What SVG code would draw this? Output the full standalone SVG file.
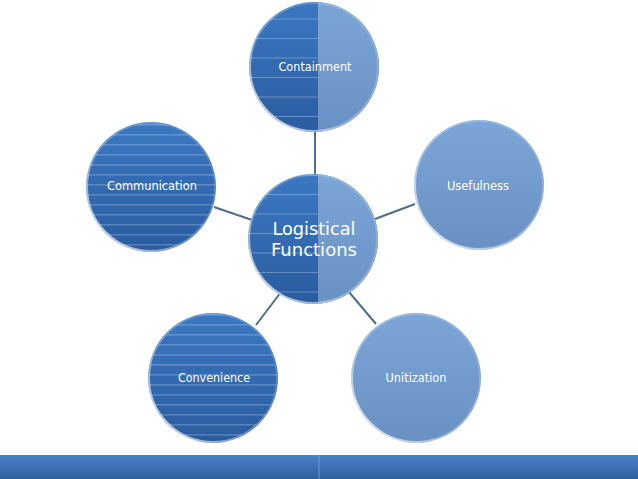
<svg xmlns="http://www.w3.org/2000/svg" width="638" height="479" viewBox="0 0 638 479">
<style>
.lbl{font-family:"DejaVu Sans Condensed","DejaVu Sans","Liberation Sans",sans-serif;font-size:12px;fill:#ffffff;text-anchor:middle}
.big{font-family:"DejaVu Sans Condensed","DejaVu Sans","Liberation Sans",sans-serif;font-size:18px;fill:#ffffff;text-anchor:middle}
.conn{stroke:#4d6d8e;stroke-width:2;fill:none}
.rim{fill:none;stroke:url(#rimG);stroke-width:2}
</style>
<defs>
<linearGradient id="dark" x1="0" y1="0" x2="0" y2="1">
<stop offset="0" stop-color="#3b78c2"/><stop offset="1" stop-color="#2a5c9f"/>
</linearGradient>
<linearGradient id="light" x1="0" y1="0" x2="0" y2="1">
<stop offset="0" stop-color="#7da6d8"/><stop offset="1" stop-color="#6890c3"/>
</linearGradient>
<linearGradient id="rimG" x1="1" y1="0" x2="0" y2="1">
<stop offset="0" stop-color="#ffffff" stop-opacity="0.1"/><stop offset="0.6" stop-color="#ffffff" stop-opacity="0.3"/><stop offset="1" stop-color="#ffffff" stop-opacity="0.9"/>
</linearGradient>
<linearGradient id="bar" x1="0" y1="0" x2="0" y2="1">
<stop offset="0" stop-color="#4c82cc"/><stop offset="1" stop-color="#2f5e9c"/>
</linearGradient>
<pattern id="s10" patternUnits="userSpaceOnUse" width="20" height="10">
<rect x="0" y="4.5" width="20" height="0.8" fill="#ffffff" fill-opacity="0.4"/>
</pattern>
<pattern id="s20" patternUnits="userSpaceOnUse" width="20" height="19.5">
<rect x="0" y="18.5" width="20" height="0.8" fill="#ffffff" fill-opacity="0.35"/>
</pattern>
<clipPath id="cTop"><circle cx="314" cy="67" r="65"/></clipPath>
<clipPath id="cMid"><circle cx="313" cy="239" r="65"/></clipPath>
</defs>
<g id="connectors">
<line class="conn" x1="315" y1="130" x2="315" y2="176"/>
<line class="conn" x1="214" y1="207" x2="252" y2="220"/>
<line class="conn" x1="415" y1="204" x2="375" y2="219"/>
<line class="conn" x1="256" y1="325" x2="281" y2="292"/>
<line class="conn" x1="349" y1="292" x2="376" y2="324"/>
</g>
<g id="containment">
<circle cx="314" cy="67" r="65" fill="url(#dark)"/>
<g clip-path="url(#cTop)">
<rect x="249" y="0" width="70" height="134" fill="url(#s20)"/>
<rect x="318" y="0" width="70" height="134" fill="url(#light)"/>
</g>
<circle class="rim" cx="314" cy="67" r="64"/>
<text class="lbl" x="315" y="71" textLength="73" lengthAdjust="spacingAndGlyphs">Containment</text>
</g>
<g id="center">
<circle cx="313" cy="239" r="65" fill="url(#dark)"/>
<g clip-path="url(#cMid)">
<rect x="248" y="172" width="71" height="134" fill="url(#s20)"/>
<rect x="318" y="172" width="70" height="134" fill="url(#light)"/>
</g>
<circle class="rim" cx="313" cy="239" r="64"/>
<text class="big" x="314" y="235" textLength="83" lengthAdjust="spacingAndGlyphs">Logistical</text>
<text class="big" x="314" y="256" textLength="86" lengthAdjust="spacingAndGlyphs">Functions</text>
</g>
<g id="communication">
<circle cx="151" cy="187" r="65" fill="url(#dark)"/>
<circle cx="151" cy="187" r="64" fill="url(#s10)"/>
<circle class="rim" cx="151" cy="187" r="64"/>
<text class="lbl" x="152" y="190" textLength="90" lengthAdjust="spacingAndGlyphs">Communication</text>
</g>
<g id="usefulness">
<circle cx="479" cy="185" r="65" fill="url(#light)"/>
<circle class="rim" cx="479" cy="185" r="64"/>
<text class="lbl" x="478" y="190" textLength="62" lengthAdjust="spacingAndGlyphs">Usefulness</text>
</g>
<g id="convenience">
<circle cx="213" cy="378" r="65" fill="url(#dark)"/>
<circle cx="213" cy="378" r="64" fill="url(#s10)"/>
<circle class="rim" cx="213" cy="378" r="64"/>
<text class="lbl" x="214" y="382" textLength="72" lengthAdjust="spacingAndGlyphs">Convenience</text>
</g>
<g id="unitization">
<circle cx="416" cy="378" r="65" fill="url(#light)"/>
<circle class="rim" cx="416" cy="378" r="64"/>
<text class="lbl" x="416" y="382" textLength="61" lengthAdjust="spacingAndGlyphs">Unitization</text>
</g>
<g id="bar">
<rect x="0" y="455" width="638" height="24" fill="url(#bar)"/>
<line x1="319" y1="455" x2="319" y2="479" stroke="#6d9bd8" stroke-width="1"/>
</g>
</svg>
